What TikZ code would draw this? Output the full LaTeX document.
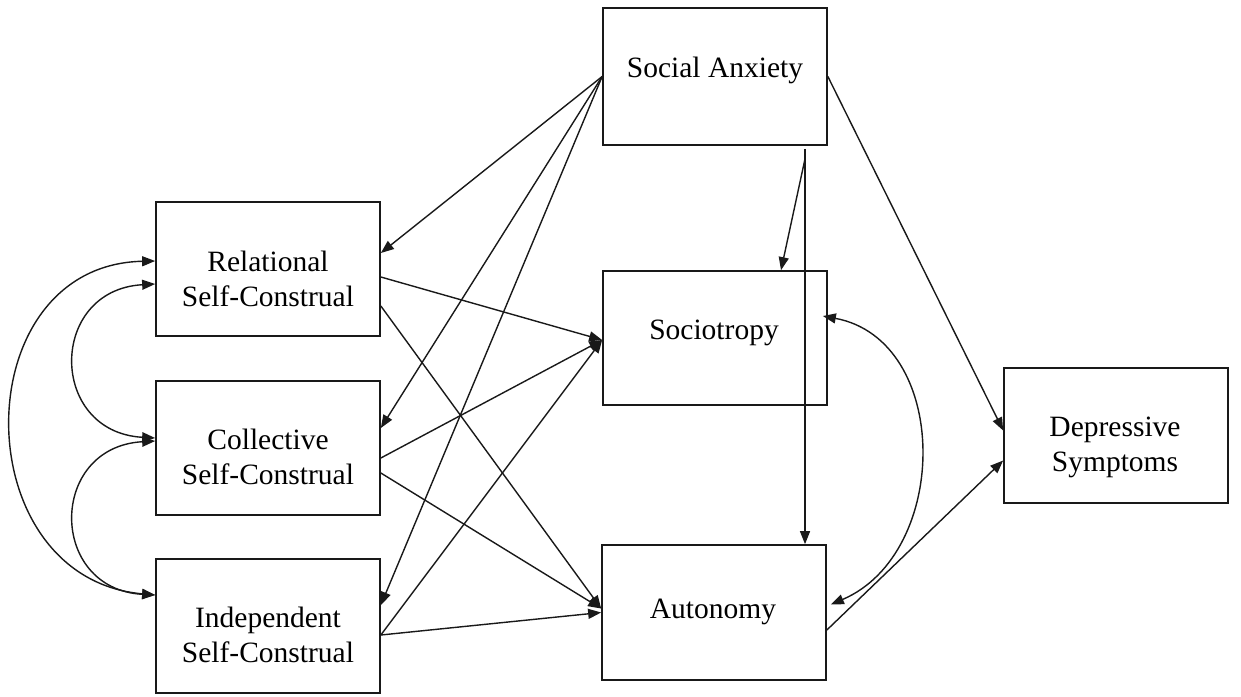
\documentclass[tikz,border=0pt]{standalone}
\usepackage{fontspec}
\setmainfont{Liberation Serif}
\usetikzlibrary{arrows.meta,calc}
\begin{document}
\begin{tikzpicture}[x=1pt,y=-1pt,
  box/.style={draw=black!90, line width=1.7pt, minimum width=224pt, minimum height=134pt, inner sep=0pt},
  lbl/.style={font=\fontsize{29.5}{35}\selectfont, align=center, anchor=base, inner sep=0pt},
  tipA/.tip={Triangle[length=13pt,width=10pt]},
  arr/.style={line width=1.4pt, draw=black!90, -{tipA}},
  darr/.style={line width=1.4pt, draw=black!90, {tipA}-{tipA}}]
\useasboundingbox[fill=white] (0,0) rectangle (1241,696);

% boxes
\node[box, minimum height=137pt] (sa) at (715,76.5) {};
\node[box] (rel) at (268,269) {};
\node[box] (col) at (268,448) {};
\node[box] (ind) at (268,626) {};
\node[box] (soc) at (715,338) {};
\node[box, minimum height=135pt] (aut) at (714,612.5) {};
\node[box, minimum height=135pt] (dep) at (1116,435.5) {};

% labels (base anchor = baseline of the last line)
\node[lbl] (sa-t) at (715,77) {Social Anxiety};
\node[lbl] (rel-t) at (268,306) {Relational\\Self-Construal};
\node[lbl] (col-t) at (268,484) {Collective\\Self-Construal};
\node[lbl] (ind-t) at (268,662) {Independent\\Self-Construal};
\node[lbl] (soc-t) at (714,339) {Sociotropy};
\node[lbl] (aut-t) at (713,618) {Autonomy};
\node[lbl] (dep-t) at (1115,471) {Depressive\\Symptoms};

% social anxiety to self-construals
\draw[arr] (sa.west) -- ([yshift=16pt]rel.east);
\draw[arr] (sa.west) -- ([yshift=20pt]col.east);
\draw[arr] (sa.west) -- ([yshift=21pt]ind.east);

% self-construals to sociotropy / autonomy
\draw[arr] ([yshift=-8pt]rel.east) -- ([yshift=-2pt]soc.west);
\draw[arr] ([yshift=-37pt]rel.east) -- ([yshift=4pt]aut.west);
\draw[arr] ([yshift=-10pt]col.east) -- ([yshift=-2pt]soc.west);
\draw[arr] ([yshift=-25pt]col.east) -- ([yshift=4pt]aut.west);
\draw[arr] ([yshift=-9pt]ind.east) -- ([yshift=-2pt]soc.west);
\draw[arr] ([yshift=-9pt]ind.east) -- (aut.west);

% social anxiety downward
\coordinate (sa-out) at ([xshift=90pt,yshift=-3pt]sa.south);
\draw[arr] (sa-out) -- ([xshift=91pt]aut.north);
\draw[arr] ([yshift=-10pt]sa-out) -- ([xshift=66pt]soc.north);

% to depressive symptoms
\draw[arr] (sa.east) -- ([yshift=5pt]dep.west);
\draw[arr] ([yshift=-17.5pt]aut.east) -- ([yshift=-25pt]dep.west);

% covariances
\draw[darr] ([xshift=-5pt,yshift=22pt]soc.east) .. controls (951,340) and (951,553) .. ([xshift=4pt,yshift=8pt]aut.east);
\draw[darr] ([yshift=-15pt]rel.west) .. controls (48,290) and (48,432) .. ([yshift=10pt]col.west);
\draw[darr] ([yshift=7pt]col.west) .. controls (48,447) and (48,589) .. ([yshift=31pt]ind.west);
\draw[darr] ([yshift=8pt]rel.west) .. controls (-36,265) and (-36,578) .. ([yshift=31pt]ind.west);
\end{tikzpicture}
\end{document}
